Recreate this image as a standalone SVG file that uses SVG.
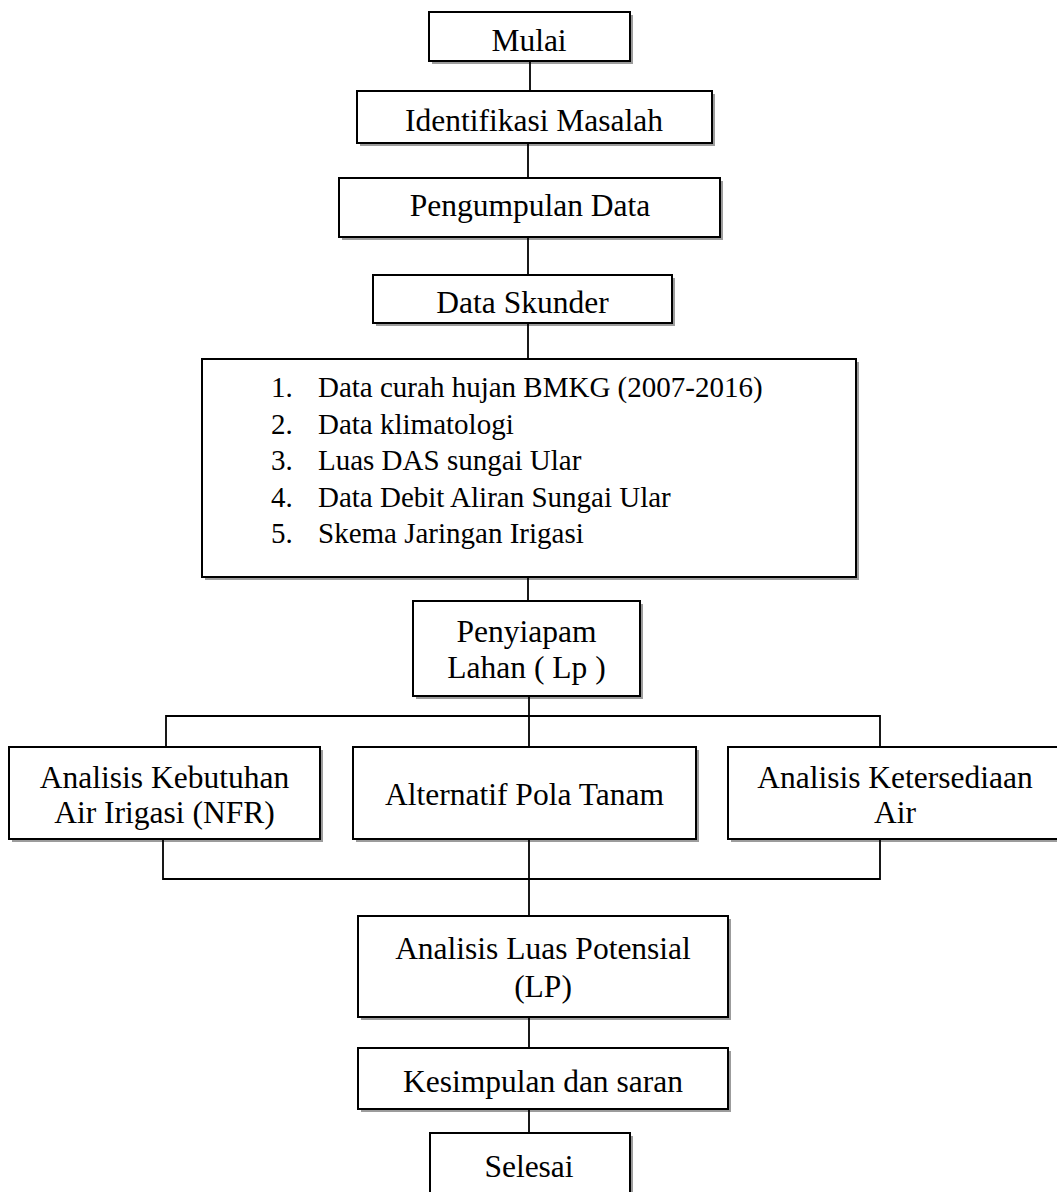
<svg xmlns="http://www.w3.org/2000/svg" width="1057" height="1192" viewBox="0 0 1057 1192">
<style>
.sh{fill:#9c9c9c;stroke:none}
.bx{fill:#fff;stroke:#000;stroke-width:2}
.t{font-family:"Liberation Serif","Times New Roman",serif;font-size:31.5px;fill:#000;text-anchor:middle}
.l{font-family:"Liberation Serif","Times New Roman",serif;font-size:29px;fill:#000}
.c{fill:none;stroke:#000;stroke-width:1.8}
</style>
<rect width="1057" height="1192" fill="#fff"/>
<g id="mulai">
<rect class="sh" x="432" y="15" width="201" height="49"/>
<rect class="bx" x="429" y="12" width="201" height="49"/>
<text class="t" x="529" y="51">Mulai</text>
</g>
<g id="identifikasi">
<rect class="sh" x="360" y="94" width="355" height="52"/>
<rect class="bx" x="357" y="91" width="355" height="52"/>
<text class="t" x="534" y="131">Identifikasi Masalah</text>
</g>
<g id="pengumpulan">
<rect class="sh" x="342" y="181" width="381" height="59"/>
<rect class="bx" x="339" y="178" width="381" height="59"/>
<text class="t" x="530" y="216">Pengumpulan Data</text>
</g>
<g id="skunder">
<rect class="sh" x="376" y="278" width="299" height="48"/>
<rect class="bx" x="373" y="275" width="299" height="48"/>
<text class="t" x="522.5" y="313">Data Skunder</text>
</g>
<g id="daftar">
<rect class="sh" x="205" y="362" width="654" height="218"/>
<rect class="bx" x="202" y="359" width="654" height="218"/>
<text class="l" x="271" y="397">1.</text><text class="l" x="318" y="397">Data curah hujan BMKG (2007-2016)</text>
<text class="l" x="271" y="434">2.</text><text class="l" x="318" y="434">Data klimatologi</text>
<text class="l" x="271" y="470">3.</text><text class="l" x="318" y="470">Luas DAS sungai Ular</text>
<text class="l" x="271" y="507">4.</text><text class="l" x="318" y="507">Data Debit Aliran Sungai Ular</text>
<text class="l" x="271" y="543">5.</text><text class="l" x="318" y="543">Skema Jaringan Irigasi</text>
</g>
<g id="penyiapan">
<rect class="sh" x="416" y="604" width="227" height="95"/>
<rect class="bx" x="413" y="601" width="227" height="95"/>
<text class="t" x="526.5" y="642">Penyiapam</text>
<text class="t" x="526.5" y="678">Lahan ( Lp )</text>
</g>
<g id="kebutuhan">
<rect class="sh" x="12" y="750" width="311" height="92"/>
<rect class="bx" x="9" y="747" width="311" height="92"/>
<text class="t" x="164.5" y="788">Analisis Kebutuhan</text>
<text class="t" x="164.5" y="823">Air Irigasi (NFR)</text>
</g>
<g id="polatanam">
<rect class="sh" x="356" y="750" width="343" height="92"/>
<rect class="bx" x="353" y="747" width="343" height="92"/>
<text class="t" x="524.5" y="805">Alternatif Pola Tanam</text>
</g>
<g id="ketersediaan">
<rect class="sh" x="731" y="750" width="334" height="92"/>
<rect class="bx" x="728" y="747" width="334" height="92"/>
<text class="t" x="895" y="788">Analisis Ketersediaan</text>
<text class="t" x="895" y="823">Air</text>
</g>
<g id="luaspotensial">
<rect class="sh" x="361" y="919" width="370" height="101"/>
<rect class="bx" x="358" y="916" width="370" height="101"/>
<text class="t" x="543" y="959">Analisis Luas Potensial</text>
<text class="t" x="543" y="997">(LP)</text>
</g>
<g id="kesimpulan">
<rect class="sh" x="361" y="1051" width="370" height="61"/>
<rect class="bx" x="358" y="1048" width="370" height="61"/>
<text class="t" x="543" y="1092">Kesimpulan dan saran</text>
</g>
<g id="selesai">
<rect class="sh" x="433" y="1136" width="200" height="70"/>
<rect class="bx" x="430" y="1133" width="200" height="70"/>
<text class="t" x="529" y="1177">Selesai</text>
</g>
<g id="connectors">
<line class="c" x1="530" y1="61" x2="530" y2="91"/>
<line class="c" x1="528" y1="143" x2="528" y2="178"/>
<line class="c" x1="528" y1="237" x2="528" y2="275"/>
<line class="c" x1="528" y1="323" x2="528" y2="359"/>
<line class="c" x1="528" y1="577" x2="528" y2="601"/>
<line class="c" x1="529" y1="696" x2="529" y2="747"/>
<polyline class="c" points="166,747 166,716 880,716 880,747"/>
<polyline class="c" points="163,839 163,879 880,879 880,839"/>
<line class="c" x1="529" y1="839" x2="529" y2="916"/>
<line class="c" x1="529" y1="1017" x2="529" y2="1048"/>
<line class="c" x1="529" y1="1109" x2="529" y2="1133"/>
</g>
</svg>
